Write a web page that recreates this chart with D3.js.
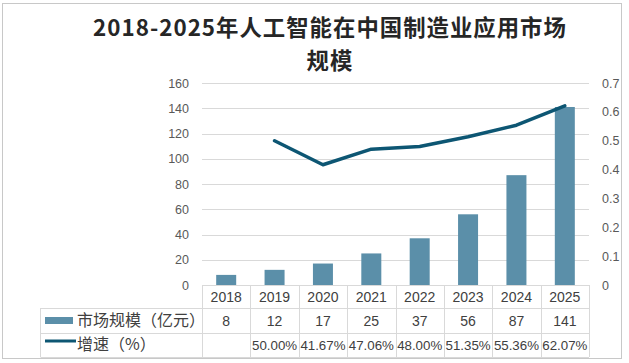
<!DOCTYPE html>
<html>
<head>
<meta charset="utf-8">
<script src="https://cdn.jsdelivr.net/npm/d3@7/dist/d3.min.js"></script>
<style>
  html, body { margin: 0; padding: 0; background: #fff; }
  svg { display: block; }
  text { font-family: "Liberation Sans", "Noto Sans CJK SC", sans-serif; }
  .cjk { font-family: "Noto Sans CJK SC", sans-serif; }
</style>
</head>
<body>
<svg id="chart" width="629" height="363"></svg>
<script>
const years = ["2018", "2019", "2020", "2021", "2022", "2023", "2024", "2025"];
const marketSize = [8, 12, 17, 25, 37, 56, 87, 141];
const growth = [null, 0.5000, 0.4167, 0.4706, 0.4800, 0.5135, 0.5536, 0.6207];
const growthLabels = ["", "50.00%", "41.67%", "47.06%", "48.00%", "51.35%", "55.36%", "62.07%"];
const leftTicks = [0, 20, 40, 60, 80, 100, 120, 140, 160];
const rightTicks = [0, 0.1, 0.2, 0.3, 0.4, 0.5, 0.6, 0.7];
const titleLines = ["2018-2025年人工智能在中国制造业应用市场", "规模"];
const seriesNames = ["市场规模（亿元）", "增速（%）"];

const svg = d3.select("#chart");
const barColor = "#5b8fa9";
const lineColor = "#0d5673";
const gridColor = "#d9d9d9";
const textColor = "#595959";

// outer border
svg.append("rect").attr("x", 2.5).attr("y", 3.5).attr("width", 619).attr("height", 355)
  .attr("fill", "#fff").attr("stroke", "#c8c8c8").attr("stroke-width", 1);

// title (two lines)
svg.append("g").selectAll("text").data(titleLines).join("text")
  .attr("class", "cjk")
  .attr("text-anchor", "middle")
  .attr("font-size", 22.4).attr("font-weight", "bold").attr("fill", "#262626")
  .attr("letter-spacing", 1)
  .attr("x", 330).attr("y", (d, i) => 36 + i * 32.6)
  .text(d => d);

const x0 = 202, x1 = 589, yTop = 83, yBot = 285;
const xc = d3.scaleBand().domain(years).range([x0, x1]);
const yL = d3.scaleLinear().domain([0, 160]).range([yBot, yTop]);
const yR = d3.scaleLinear().domain([0, 0.7]).range([yBot, yTop]);

// gridlines
svg.append("g").selectAll("line").data(leftTicks.filter(d => d > 0)).join("line")
  .attr("x1", x0).attr("x2", x1).attr("y1", d => Math.round(yL(d)) + 0.5).attr("y2", d => Math.round(yL(d)) + 0.5)
  .attr("stroke", gridColor).attr("stroke-width", 1);

// left axis
const gL = svg.append("g").attr("transform", `translate(${x0},0)`)
  .call(d3.axisLeft(yL).tickValues(leftTicks).tickSize(0).tickPadding(13).tickFormat(d3.format("d")));
gL.select(".domain").remove();
gL.selectAll("text").attr("font-size", 12.5).attr("fill", textColor).attr("font-family", "Liberation Sans");

// right axis
const gR = svg.append("g").attr("transform", `translate(${x1},0)`)
  .call(d3.axisRight(yR).tickValues(rightTicks).tickSize(0).tickPadding(13).tickFormat(d => d === 0 ? "0" : d3.format(".1f")(d)));
gR.select(".domain").remove();
gR.selectAll("text").attr("font-size", 12.5).attr("fill", textColor).attr("font-family", "Liberation Sans");

// bars
svg.append("g").selectAll("rect").data(years).join("rect")
  .attr("x", d => xc(d) + xc.bandwidth() / 2 - 10)
  .attr("width", 20)
  .attr("y", (d, i) => yL(marketSize[i]))
  .attr("height", (d, i) => yBot - yL(marketSize[i]))
  .attr("fill", barColor);

// line
const pts = years.map((d, i) => ({ x: xc(d) + xc.bandwidth() / 2, v: growth[i] })).filter(p => p.v !== null);
svg.append("path").datum(pts)
  .attr("d", d3.line().x(p => p.x).y(p => yR(p.v)))
  .attr("fill", "none").attr("stroke", lineColor).attr("stroke-width", 3.5).attr("stroke-linecap", "round").attr("stroke-linejoin", "round");

// data table
const rowY = [285, 308, 333, 357];
const tableLeft = 40.5;
const tg = svg.append("g");
tg.append("line").attr("x1", x0).attr("x2", x1).attr("y1", rowY[0] + 0.5).attr("y2", rowY[0] + 0.5).attr("stroke", gridColor);
rowY.slice(1).forEach(yv => {
  tg.append("line").attr("x1", tableLeft).attr("x2", x1).attr("y1", yv + 0.5).attr("y2", yv + 0.5).attr("stroke", gridColor);
});
tg.append("line").attr("x1", tableLeft).attr("x2", tableLeft).attr("y1", rowY[1]).attr("y2", rowY[3]).attr("stroke", gridColor);
const bounds = years.map(d => xc(d)).concat([x1]);
tg.selectAll("line.v").data(bounds).join("line").attr("class", "v")
  .attr("x1", d => Math.round(d) + 0.5).attr("x2", d => Math.round(d) + 0.5)
  .attr("y1", rowY[0]).attr("y2", rowY[3]).attr("stroke", gridColor);

tg.selectAll("text.yr").data(years).join("text").attr("class", "yr")
  .attr("x", d => xc(d) + xc.bandwidth() / 2).attr("y", 302)
  .attr("text-anchor", "middle").attr("font-size", 14).attr("fill", "#404040").text(d => d);
tg.selectAll("text.val").data(marketSize).join("text").attr("class", "val")
  .attr("x", (d, i) => xc(years[i]) + xc.bandwidth() / 2).attr("y", 326)
  .attr("text-anchor", "middle").attr("font-size", 14).attr("fill", "#404040").text(d => d);
tg.selectAll("text.gr").data(growthLabels).join("text").attr("class", "gr")
  .attr("x", (d, i) => xc(years[i]) + xc.bandwidth() / 2).attr("y", 350)
  .attr("text-anchor", "middle").attr("font-size", 13.3).attr("fill", "#404040").text(d => d);

tg.append("rect").attr("x", 45).attr("y", 317).attr("width", 28).attr("height", 7).attr("fill", barColor);
tg.append("line").attr("x1", 45).attr("x2", 76).attr("y1", 341).attr("y2", 341).attr("stroke", lineColor).attr("stroke-width", 3);
tg.selectAll("text.lg").data(seriesNames).join("text").attr("class", "lg cjk")
  .attr("x", 77).attr("y", (d, i) => i === 0 ? 326 : 350)
  .attr("font-size", 16).attr("fill", "#404040").text(d => d);
</script>
</body>
</html>
